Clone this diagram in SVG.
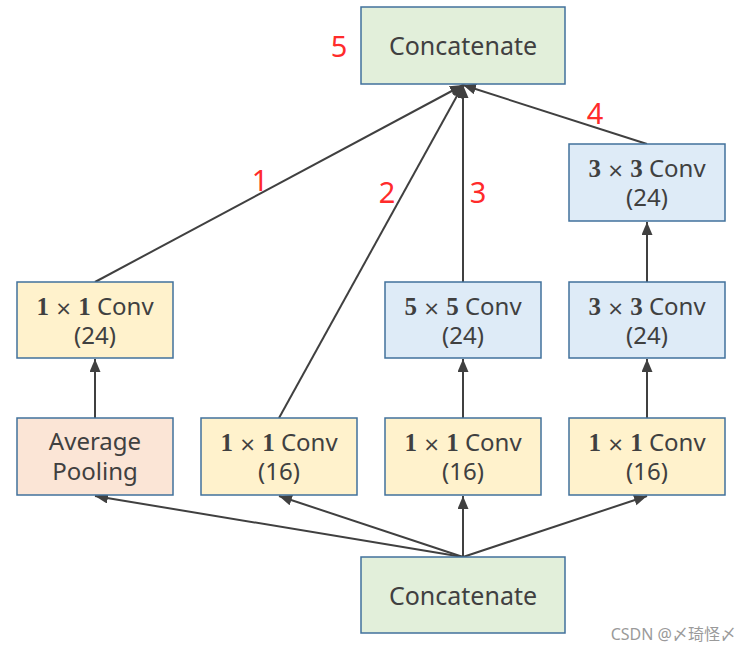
<svg xmlns="http://www.w3.org/2000/svg" width="752" height="651" viewBox="0 0 752 651">
<style>
.box{stroke:#41719c;stroke-width:1.5}
.g{fill:#e2efda}.y{fill:#fff2cc}.b{fill:#deebf7}.p{fill:#fbe5d6}
.t{font-family:"Noto Sans","Open Sans",sans-serif;font-size:24px;fill:#404040;text-anchor:middle}
.c{font-size:25px}
.m{font-family:"Liberation Serif",serif;font-weight:bold;font-size:25px}
.x{font-family:"DejaVu Sans",sans-serif;font-size:20px}
.lbl{font-family:"Noto Sans",sans-serif;font-size:29px;fill:#ff2b2b;text-anchor:middle}
.edge{stroke:#404040;stroke-width:2;fill:none;marker-end:url(#ah)}
</style>
<defs>
<marker id="ah" markerUnits="userSpaceOnUse" markerWidth="14" markerHeight="12" refX="13" refY="5.5" orient="auto">
<path d="M0,0 L13,5.5 L0,11 z" fill="#404040"/>
</marker>
</defs>
<rect width="752" height="651" fill="#ffffff"/>
<g id="connectors">
<line class="edge" x1="463" y1="557" x2="95" y2="496"/>
<line class="edge" x1="463" y1="557" x2="279" y2="496"/>
<line class="edge" x1="463" y1="557" x2="463" y2="496"/>
<line class="edge" x1="463" y1="557" x2="647" y2="496"/>
<line class="edge" x1="95" y1="418" x2="95" y2="359"/>
<line class="edge" x1="463" y1="418" x2="463" y2="359"/>
<line class="edge" x1="647" y1="418" x2="647" y2="359"/>
<line class="edge" x1="647" y1="282" x2="647" y2="222"/>
<line class="edge" x1="95" y1="282" x2="463" y2="85"/>
<line class="edge" x1="279" y1="418" x2="463" y2="85"/>
<line class="edge" x1="463" y1="282" x2="463" y2="85"/>
<line class="edge" x1="647" y1="144" x2="463" y2="85"/>
</g>
<g id="concat_top">
<rect class="box g" x="361" y="7" width="204" height="77"/>
<text class="t c" x="463" y="55">Concatenate</text>
</g>
<g id="concat_bottom">
<rect class="box g" x="361" y="557" width="204" height="76"/>
<text class="t c" x="463" y="605">Concatenate</text>
</g>
<g id="conv1x1_24">
<rect class="box y" x="17" y="282" width="156" height="76"/>
<text class="t" x="95" y="315"><tspan class="m">1</tspan> <tspan class="x">×</tspan> <tspan class="m">1</tspan> Conv</text>
<text class="t" x="95" y="344">(24)</text>
</g>
<g id="conv5x5">
<rect class="box b" x="385" y="282" width="156" height="76"/>
<text class="t" x="463" y="315"><tspan class="m">5</tspan> <tspan class="x">×</tspan> <tspan class="m">5</tspan> Conv</text>
<text class="t" x="463" y="344">(24)</text>
</g>
<g id="conv3x3_a">
<rect class="box b" x="569" y="282" width="156" height="76"/>
<text class="t" x="647" y="315"><tspan class="m">3</tspan> <tspan class="x">×</tspan> <tspan class="m">3</tspan> Conv</text>
<text class="t" x="647" y="344">(24)</text>
</g>
<g id="conv3x3_b">
<rect class="box b" x="569" y="144" width="156" height="77"/>
<text class="t" x="647" y="177"><tspan class="m">3</tspan> <tspan class="x">×</tspan> <tspan class="m">3</tspan> Conv</text>
<text class="t" x="647" y="206">(24)</text>
</g>
<g id="avgpool">
<rect class="box p" x="17" y="418" width="156" height="77"/>
<text class="t" x="95" y="450">Average</text>
<text class="t" x="95" y="480">Pooling</text>
</g>
<g id="conv1x1_16_a">
<rect class="box y" x="201" y="418" width="156" height="77"/>
<text class="t" x="279" y="451"><tspan class="m">1</tspan> <tspan class="x">×</tspan> <tspan class="m">1</tspan> Conv</text>
<text class="t" x="279" y="480">(16)</text>
</g>
<g id="conv1x1_16_b">
<rect class="box y" x="385" y="418" width="156" height="77"/>
<text class="t" x="463" y="451"><tspan class="m">1</tspan> <tspan class="x">×</tspan> <tspan class="m">1</tspan> Conv</text>
<text class="t" x="463" y="480">(16)</text>
</g>
<g id="conv1x1_16_c">
<rect class="box y" x="569" y="418" width="156" height="77"/>
<text class="t" x="647" y="451"><tspan class="m">1</tspan> <tspan class="x">×</tspan> <tspan class="m">1</tspan> Conv</text>
<text class="t" x="647" y="480">(16)</text>
</g>
<g id="labels">
<text class="lbl" x="339" y="57">5</text>
<text class="lbl" x="260" y="191">1</text>
<text class="lbl" x="387" y="203">2</text>
<text class="lbl" x="478" y="203">3</text>
<text class="lbl" x="595" y="124">4</text>
</g>
<text x="736" y="640" text-anchor="end" font-family="'Noto Sans','Noto Sans CJK SC',sans-serif" font-size="16" fill="#9a9a9a">CSDN @〆琦怪〆</text>
</svg>
